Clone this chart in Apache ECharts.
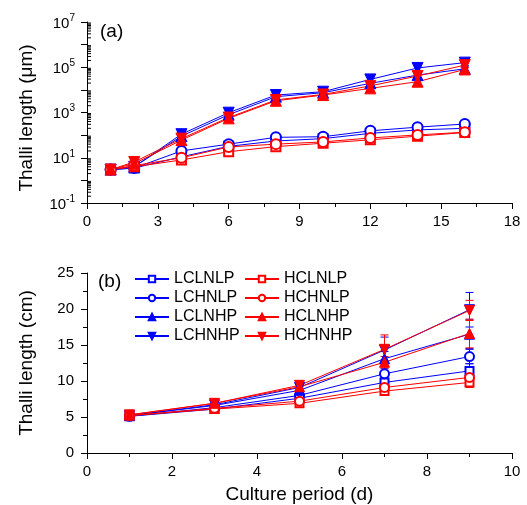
<!DOCTYPE html>
<html>
<head>
<meta charset="utf-8">
<script src="https://cdn.jsdelivr.net/npm/echarts@6/dist/echarts.min.js"></script>
<style>html,body{margin:0;padding:0;background:#fff}#c{width:527px;height:505px}</style>
</head>
<body>
<div id="c"></div>
<script>
// ---------- DATA ----------
const seriesNames = ['LCLNLP','LCHNLP','LCLNHP','LCHNHP','HCLNLP','HCHNLP','HCLNHP','HCHNHP'];

// Panel (a): thalli length (µm), log scale
const daysA = [1, 2, 4, 6, 8, 10, 12, 14, 16];
const a_LCLNLP = [3, 3.5, 11, 32, 55, 70, 120, 170, 200];
const a_LCHNLP = [3, 3.5, 20, 40, 80, 85, 155, 225, 310];
const a_LCLNHP = [3, 4, 90, 800, 5000, 7500, 19500, 45000, 85000];
const a_LCHNHP = [3, 4, 110, 980, 5900, 8300, 29000, 93000, 160000];
const a_HCLNLP = [3, 4, 8, 18.5, 31, 44, 62, 90, 130];
const a_HCHNLP = [3, 4.5, 10, 30, 40, 50, 75, 102, 135];
const a_HCLNHP = [3, 5.5, 60, 550, 3300, 5900, 11700, 23000, 80000];
const a_HCHNHP = [3, 6.5, 70, 600, 3600, 6300, 15000, 41000, 124000];
// error bars (±, µm)
const ea_LCLNLP = [0.3, 0.4, 1.5, 4, 8, 10, 18, 25, 30];
const ea_LCHNLP = [0.3, 0.4, 3, 6, 12, 12, 25, 35, 50];
const ea_LCLNHP = [0.3, 0.5, 15, 150, 900, 1300, 4000, 9000, 20000];
const ea_LCHNHP = [0.3, 0.5, 20, 200, 1000, 1500, 6000, 20000, 40000];
const ea_HCLNLP = [0.3, 0.5, 1.2, 3, 5, 7, 10, 14, 20];
const ea_HCHNLP = [0.3, 0.6, 1.5, 5, 6, 8, 12, 16, 22];
const ea_HCLNHP = [0.3, 0.8, 12, 120, 700, 1000, 2500, 6000, 20000];
const ea_HCHNHP = [0.3, 1.0, 14, 130, 700, 1100, 3000, 9000, 30000];

// Panel (b): thalli length (cm)
const daysB = [1, 3, 5, 7, 9];
const b_LCLNLP = [5.1, 6.1, 7.6, 9.8, 11.4];
const b_LCHNLP = [5.1, 6.3, 8.0, 11.0, 13.4];
const b_LCLNHP = [5.2, 6.6, 8.7, 13.1, 16.5];
const b_LCHNHP = [5.2, 6.7, 9.1, 14.3, 19.9];
const b_HCLNLP = [5.2, 6.1, 6.9, 8.6, 9.8];
const b_HCHNLP = [5.2, 6.2, 7.2, 9.1, 10.5];
const b_HCLNHP = [5.3, 6.9, 9.2, 12.6, 16.6];
const b_HCHNHP = [5.3, 6.9, 9.4, 14.4, 19.8];
// error bars (±, cm)
const eb_LCLNLP = [0.2, 0.2, 0.4, 0.6, 1.0];
const eb_LCHNLP = [0.2, 0.2, 0.4, 0.7, 1.0];
const eb_LCLNHP = [0.2, 0.2, 0.5, 1.0, 2.0];
const eb_LCHNHP = [0.2, 0.3, 0.5, 1.8, 2.4];
const eb_HCLNLP = [0.2, 0.2, 0.3, 0.4, 0.7];
const eb_HCHNLP = [0.2, 0.2, 0.3, 0.4, 0.6];
const eb_HCLNHP = [0.2, 0.3, 0.5, 0.8, 2.0];
const eb_HCHNHP = [0.2, 0.3, 0.6, 2.0, 1.4];

// tick labels
const xTicksA = [0, 3, 6, 9, 12, 15, 18];
const yTicksA = [0.1, 10, 1000, 100000, 10000000];
const xTicksB = [0, 2, 4, 6, 8, 10];
const yTicksB = [0, 5, 10, 15, 20, 25];

// ---------- STYLE ----------
const FONT = 'Liberation Sans, Arial, sans-serif';
const BLUE = '#0000ff', RED = '#ff0000';
const aData = [a_LCLNLP, a_LCHNLP, a_LCLNHP, a_LCHNHP, a_HCLNLP, a_HCHNLP, a_HCLNHP, a_HCHNHP];
const aErr = [ea_LCLNLP, ea_LCHNLP, ea_LCLNHP, ea_LCHNHP, ea_HCLNLP, ea_HCHNLP, ea_HCLNHP, ea_HCHNHP];
const bData = [b_LCLNLP, b_LCHNLP, b_LCLNHP, b_LCHNHP, b_HCLNLP, b_HCHNLP, b_HCLNHP, b_HCHNHP];
const bErr = [eb_LCLNLP, eb_LCHNLP, eb_LCLNHP, eb_LCHNHP, eb_HCLNLP, eb_HCHNLP, eb_HCLNHP, eb_HCHNHP];
const sym = ['emptyRect','emptyCircle','triangle','triangle','emptyRect','emptyCircle','triangle','triangle'];
const rot = [0,0,0,180,0,0,0,180];
const col = [BLUE,BLUE,BLUE,BLUE,RED,RED,RED,RED];
const sizeA = [9,10,11,11,9,10,11,11];
const sizeB = [8,9,10,10,8,9,10,10];

function errRenderer(color) {
  return function (params, api) {
    const x = api.value(0), y = api.value(1), e = api.value(2);
    const hi = api.coord([x, y + e]), lo = api.coord([x, y - e]);
    const w = 4, st = {stroke: color, lineWidth: 1, fill: null};
    return {type: 'group', children: [
      {type: 'line', shape: {x1: hi[0], y1: hi[1], x2: lo[0], y2: lo[1]}, style: st},
      {type: 'line', shape: {x1: hi[0] - w, y1: hi[1], x2: hi[0] + w, y2: hi[1]}, style: st},
      {type: 'line', shape: {x1: lo[0] - w, y1: lo[1], x2: lo[0] + w, y2: lo[1]}, style: st}
    ]};
  };
}

const series = [];
seriesNames.forEach((n, i) => {
  series.push({
    type: 'custom', name: n + '_errB', xAxisIndex: 1, yAxisIndex: 1, z: 1,
    itemStyle: {color: col[i]},
    data: daysB.map((d, k) => [d, bData[i][k], bErr[i][k]]),
    renderItem: errRenderer(col[i])
  });
  series.push({
    type: 'custom', name: n + '_errA', xAxisIndex: 0, yAxisIndex: 0, z: 1,
    itemStyle: {color: col[i]},
    data: daysA.map((d, k) => [d, aData[i][k], aErr[i][k]]),
    renderItem: errRenderer(col[i])
  });
});
seriesNames.forEach((n, i) => {
  series.push({
    type: 'line', name: n, xAxisIndex: 1, yAxisIndex: 1, z: 3,
    symbol: sym[i], symbolRotate: rot[i], symbolSize: sizeB[i],
    lineStyle: {color: col[i], width: 1}, itemStyle: {color: col[i], borderColor: col[i], borderWidth: 1},
    data: daysB.map((d, k) => [d, bData[i][k]])
  });
});
seriesNames.forEach((n, i) => {
  series.push({
    type: 'line', name: n, xAxisIndex: 0, yAxisIndex: 0, z: 3,
    symbol: sym[i], symbolRotate: rot[i], symbolSize: sizeA[i],
    lineStyle: {color: col[i], width: 1}, itemStyle: {color: col[i], borderColor: col[i], borderWidth: 1},
    data: daysA.map((d, k) => [d, aData[i][k]])
  });
});

const TICKLINE = {color: '#000', width: 1};
function mk(over) {
  const base = {
    axisLine: {show: true, lineStyle: {color: '#000', width: 1}},
    axisTick: {show: true, length: 6, lineStyle: TICKLINE},
    minorTick: {show: true, length: 4, splitNumber: 2, lineStyle: TICKLINE},
    splitLine: {show: false},
    axisLabel: {color: '#000', fontSize: 15, fontFamily: FONT, margin: 11},
    nameTextStyle: {color: '#000', fontSize: 19, fontFamily: FONT}
  };
  return Object.assign(base, over);
}

const legendCommon = {
  orient: 'vertical', itemWidth: 34, itemHeight: 8, itemGap: 3, padding: 0,
  textStyle: {color: '#000', fontSize: 16, fontFamily: FONT, lineHeight: 16},
  selectedMode: false
};

const option = {
  animation: false,
  backgroundColor: '#fff',
  title: [
    {text: '(a)', left: 100, top: 22, padding: 0, textStyle: {fontSize: 19, fontWeight: 'normal', fontFamily: FONT, color: '#000'}},
    {text: '(b)', left: 98, top: 272, padding: 0, textStyle: {fontSize: 19, fontWeight: 'normal', fontFamily: FONT, color: '#000'}}
  ],
  legend: [
    Object.assign({}, legendCommon, {data: seriesNames.slice(0, 4), left: 134, top: 271}),
    Object.assign({}, legendCommon, {data: seriesNames.slice(4), left: 244, top: 271})
  ],
  grid: [
    {left: 87, right: 15, top: 22, height: 181},
    {left: 87, right: 15, top: 273, height: 182}
  ],
  xAxis: [
    mk({gridIndex: 0, type: 'value', min: xTicksA[0], max: xTicksA[xTicksA.length - 1], interval: 3}),
    mk({gridIndex: 1, type: 'value', min: xTicksB[0], max: xTicksB[xTicksB.length - 1], interval: 2,
        name: 'Culture period (d)', nameLocation: 'middle', nameGap: 32})
  ],
  yAxis: [
    mk({
      gridIndex: 0, type: 'log', logBase: 10, min: yTicksA[0], max: yTicksA[yTicksA.length - 1], interval: 1,
      minorTick: {show: false},
      name: 'Thalli length (\u03bcm)', nameLocation: 'middle', nameGap: 51,
      nameTextStyle: {color: '#000', fontSize: 19, fontFamily: FONT, padding: [0, 11, 0, 0]},
      axisLabel: {
        color: '#000', fontSize: 15, fontFamily: FONT, margin: 12,
        formatter: function (v) {
          const e = Math.round(Math.log10(v));
          if (e % 2 === 0) return '';
          return '{b|10}{s|' + e + '}';
        },
        rich: {
          b: {fontSize: 15, fontFamily: FONT, color: '#000', lineHeight: 18, verticalAlign: 'bottom'},
          s: {fontSize: 10, fontFamily: FONT, color: '#000', lineHeight: 18, verticalAlign: 'top', padding: [0, 0, 6, 0]}
        }
      }
    }),
    mk({
      gridIndex: 1, type: 'value', min: yTicksB[0], max: yTicksB[yTicksB.length - 1], interval: 5,
      name: 'Thalli length (cm)', nameLocation: 'middle', nameGap: 51,
      axisLabel: {color: '#000', fontSize: 15, fontFamily: FONT, margin: 13}
    })
  ],
  series: series
};

const chart = echarts.init(document.getElementById('c'), null, {renderer: 'canvas'});
chart.setOption(option);

// logarithmic minor ticks (2..9 × 10^k) on the log axis, positioned through the axis scale
try {
  const minorLines = [];
  const x0 = chart.convertToPixel({xAxisIndex: 0}, xTicksA[0]);
  for (let k = -1; k < 7; k++) {
    for (let m = 2; m <= 9; m++) {
      const py = chart.convertToPixel({yAxisIndex: 0}, m * Math.pow(10, k));
      minorLines.push({
        type: 'line', silent: true, z: 100,
        shape: {x1: x0, y1: py, x2: x0 + 4, y2: py},
        style: {stroke: '#000', lineWidth: 1}
      });
    }
  }
  chart.setOption({graphic: {elements: minorLines}});
} catch (err) {
  document.body.insertAdjacentHTML('beforeend', '<pre style="position:absolute;top:120px;left:200px">' + err + '</pre>');
}
</script>
</body>
</html>
